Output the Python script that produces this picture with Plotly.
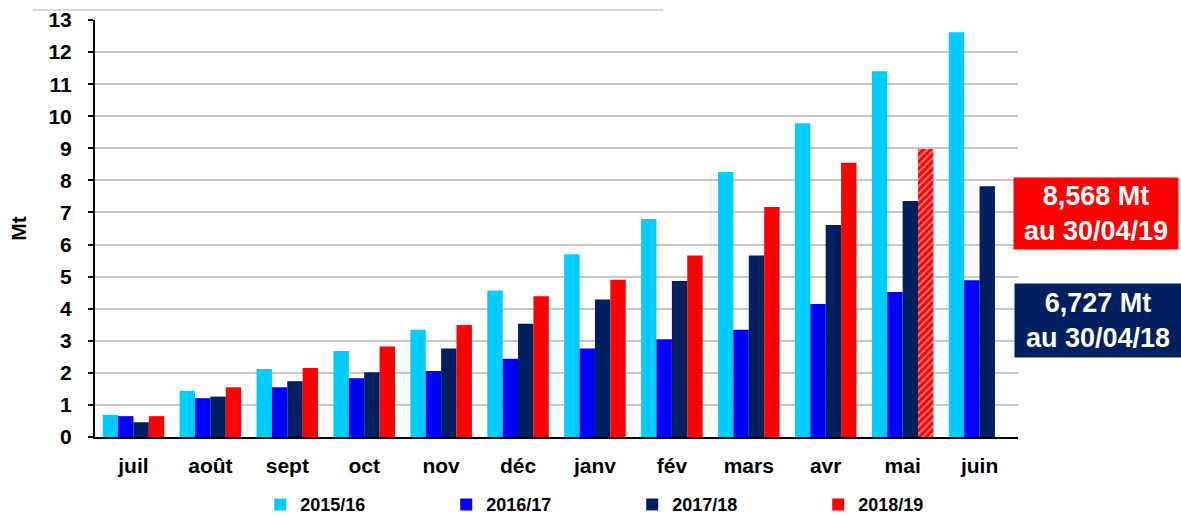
import plotly.graph_objects as go

months = ["juil", "août", "sept", "oct", "nov", "déc", "janv", "fév", "mars", "avr", "mai", "juin"]
s2015_16 = [0.69, 1.44, 2.12, 2.68, 3.34, 4.57, 5.70, 6.80, 8.26, 9.78, 11.40, 12.62]
s2016_17 = [0.65, 1.21, 1.55, 1.83, 2.06, 2.44, 2.76, 3.05, 3.34, 4.15, 4.52, 4.89]
s2017_18 = [0.46, 1.26, 1.74, 2.02, 2.76, 3.53, 4.29, 4.86, 5.66, 6.61, 7.36, 7.82]
s2018_19 = [0.65, 1.55, 2.15, 2.82, 3.49, 4.39, 4.90, 5.66, 7.17, 8.55, 8.98, None]
s2018_19_hatch = ["", "", "", "", "", "", "", "", "", "", "/", ""]
series_names = ["2015/16", "2016/17", "2017/18", "2018/19"]
colors = ["#00CCFF", "#0000FF", "#002060", "#FF0000"]
yticks = list(range(0, 14))

FONT = "Liberation Sans, Arial, sans-serif"

fig = go.Figure()
for name, vals, col in zip(series_names, [s2015_16, s2016_17, s2017_18, s2018_19], colors):
    marker = dict(color=col, line=dict(width=0))
    if name == "2018/19":
        marker["pattern"] = dict(shape=s2018_19_hatch, fgcolor="white", bgcolor=col,
                                 size=5, solidity=0.4, fillmode="overlay")
    fig.add_trace(go.Bar(x=months, y=vals, name=name, marker=marker))

fig.update_layout(
    width=1181, height=515,
    margin=dict(l=95, r=163, t=20, b=78, autoexpand=False),
    paper_bgcolor="white", plot_bgcolor="white",
    barmode="group", bargap=0.2, bargroupgap=0,
    font=dict(family=FONT, color="black", size=20),
    showlegend=True,
    legend=dict(orientation="h", x=0.179, xanchor="left", y=-0.118, yanchor="top",
                font=dict(size=18, family=FONT, weight="bold"),
                entrywidth=141, entrywidthmode="pixels",
                itemsizing="constant", traceorder="normal"),
    xaxis=dict(showline=True, linecolor="black", linewidth=2, ticks="",
               tickfont=dict(size=21, family=FONT, weight="bold"),
               ticklabelstandoff=9, automargin=False),
    yaxis=dict(range=[0, 13], tickvals=yticks, showline=True, linecolor="black", linewidth=2,
               ticks="outside", ticklen=5, tickwidth=2, tickcolor="black",
               showgrid=True, gridcolor="#C8C8C8", gridwidth=2,
               tickfont=dict(size=21, family=FONT, weight="bold"),
               ticklabelstandoff=12, automargin=False,
               title=dict(text="Mt", font=dict(size=21, family=FONT, weight="bold"), standoff=16),
               zeroline=False),
    annotations=[
        dict(xref="paper", yref="paper", x=1.0845, y=0.536, xanchor="center", yanchor="middle",
             text="8,568 Mt<br>au 30/04/19", showarrow=False, bgcolor="#FF0000",
             width=162, height=69, borderpad=1,
             font=dict(size=27, color="white", family=FONT, weight="bold")),
        dict(xref="paper", yref="paper", x=1.0866, y=0.279, xanchor="center", yanchor="middle",
             text="6,727 Mt<br>au 30/04/18", showarrow=False, bgcolor="#002060",
             width=164, height=71, borderpad=1,
             font=dict(size=27, color="white", family=FONT, weight="bold")),
    ],
    shapes=[dict(type="line", xref="paper", yref="paper",
                 x0=(33 - 95) / 923, x1=(663 - 95) / 923,
                 y0=(437 - 10) / 417, y1=(437 - 10) / 417,
                 line=dict(color="#D9D9D9", width=2))],
)

fig.write_html("out.html", config={"displayModeBar": False},
               post_script="document.body.style.margin='0';")
